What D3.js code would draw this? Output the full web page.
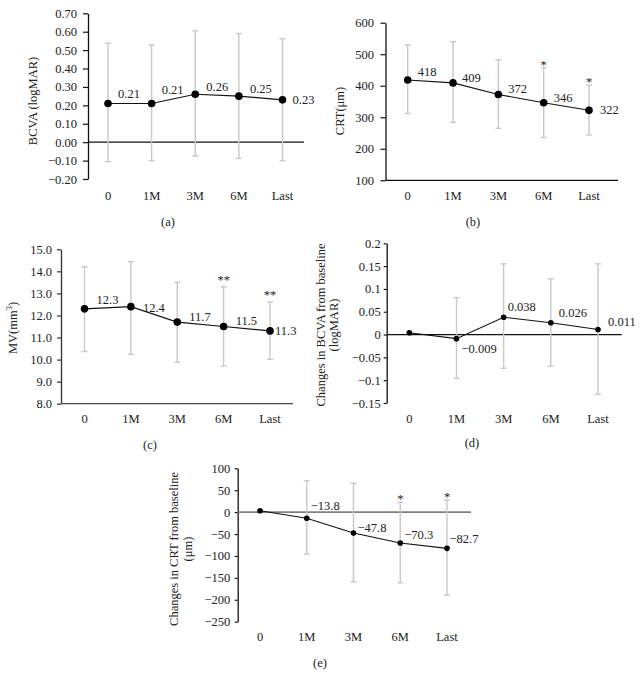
<!DOCTYPE html>
<html>
<head>
<meta charset="utf-8">
<script src="https://cdn.jsdelivr.net/npm/d3@7/dist/d3.min.js"></script>
<style>
  html, body { margin: 0; padding: 0; background: #fff; }
  svg { display: block; }
  text { font-family: "Liberation Serif", "DejaVu Serif", serif; fill: #222; }
</style>
</head>
<body>
<svg id="chart" width="643" height="688"></svg>
<script>
// ---------------- DATA ----------------
const categories = ["0", "1M", "3M", "6M", "Last"];

// (a) BCVA
const bcvaMean  = [0.21, 0.21, 0.26, 0.25, 0.23];
const bcvaUpper = [0.537, 0.528, 0.605, 0.59, 0.562];
const bcvaLower = [-0.106, -0.10, -0.075, -0.088, -0.10];
const bcvaLabels = ["0.21", "0.21", "0.26", "0.25", "0.23"];
const bcvaStars = ["", "", "", "", ""];
const bcvaTicks = [-0.2, -0.1, 0, 0.1, 0.2, 0.3, 0.4, 0.5, 0.6, 0.7];

// (b) CRT
const crtMean  = [418, 409, 372, 346, 322];
const crtUpper = [529, 540, 482, 457, 402];
const crtLower = [312, 284, 265, 236, 244];
const crtLabels = ["418", "409", "372", "346", "322"];
const crtStars = ["", "", "", "*", "*"];
const crtTicks = [100, 200, 300, 400, 500, 600];

// (c) MV
const mvMean  = [12.3, 12.4, 11.7, 11.5, 11.3];
const mvUpper = [14.21, 14.44, 13.5, 13.3, 12.6];
const mvLower = [10.36, 10.24, 9.88, 9.71, 10.01];
const mvLabels = ["12.3", "12.4", "11.7", "11.5", "11.3"];
const mvStars = ["", "", "", "**", "**"];
const mvTicks = [8, 9, 10, 11, 12, 13, 14, 15];

// (d) Change in BCVA
const dBcvaMean  = [0.004, -0.009, 0.038, 0.026, 0.011];
const dBcvaUpper = [null, 0.081, 0.155, 0.122, 0.155];
const dBcvaLower = [null, -0.096, -0.074, -0.069, -0.131];
const dBcvaLabels = ["", "\u22120.009", "0.038", "0.026", "0.011"];
const dBcvaStars = ["", "", "", "", ""];
const dBcvaTicks = [-0.15, -0.1, -0.05, 0, 0.05, 0.1, 0.15, 0.2];
const dBcvaTickLabels = ["\u22120.15", "\u22120.1", "\u22120.05", "0", "0.05", "0.1", "0.15", "0.2"];

// (e) Change in CRT
const dCrtMean  = [3, -13.8, -47.8, -70.3, -82.7];
const dCrtUpper = [null, 71.7, 65.8, 22.4, 27.6];
const dCrtLower = [null, -95.7, -158.9, -161.2, -189.3];
const dCrtLabels = ["", "\u221213.8", "\u221247.8", "\u221270.3", "\u221282.7"];
const dCrtStars = ["", "", "", "*", "*"];
const dCrtTicks = [-250, -200, -150, -100, -50, 0, 50, 100];

// ---------------- DRAWING ----------------
const svg = d3.select("#chart");
const FONT = 12.5;
const minus = s => s.replace(/-/g, "\u2212");

function drawPanel(cfg) {
  const g = svg.append("g");
  const y = d3.scaleLinear().domain(cfg.domain).range([cfg.yBottom, cfg.yTop]);
  const x = d3.scalePoint().domain(categories).range([cfg.x0, cfg.x4]);

  // y axis
  const axis = d3.axisLeft(y)
    .tickValues(cfg.ticks)
    .tickFormat(cfg.fmt)
    .tickSize(cfg.tickLen)
    .tickSizeOuter(0)
    .tickPadding(cfg.pad);
  const ag = g.append("g")
    .attr("transform", `translate(${cfg.axisX},0)`)
    .call(axis);
  ag.attr("font-family", null).attr("font-size", null);
  ag.select(".domain").attr("stroke", cfg.axisColor).attr("stroke-width", 1.3);
  ag.selectAll(".tick line").attr("stroke", cfg.axisColor).attr("stroke-width", 1.2);
  ag.selectAll(".tick text").style("font-size", FONT + "px").attr("fill", "#222");

  // baseline (zero line or bottom axis)
  g.append("line")
    .attr("x1", cfg.axisX).attr("x2", cfg.lineEnd)
    .attr("y1", y(cfg.base)).attr("y2", y(cfg.base))
    .attr("stroke", cfg.baseColor).attr("stroke-width", cfg.baseWidth);

  // category labels
  g.selectAll(".cat").data(categories).enter().append("text")
    .attr("x", d => x(d)).attr("y", cfg.catY)
    .attr("text-anchor", "middle")
    .style("font-size", FONT + "px")
    .text(d => d);

  const pts = categories.map((c, i) => ({
    c, m: cfg.mean[i], u: cfg.upper[i], l: cfg.lower[i],
    lab: cfg.labels[i], star: cfg.stars[i], off: cfg.offsets[i]
  }));

  // error bars
  const eb = g.selectAll(".eb").data(pts.filter(p => p.u != null)).enter().append("g")
    .attr("stroke", "#c9c9c9").attr("stroke-width", 1.4);
  eb.append("line").attr("x1", p => x(p.c)).attr("x2", p => x(p.c))
    .attr("y1", p => y(p.u)).attr("y2", p => y(p.l));
  eb.append("line").attr("x1", p => x(p.c) - 3).attr("x2", p => x(p.c) + 3)
    .attr("y1", p => y(p.u)).attr("y2", p => y(p.u));
  eb.append("line").attr("x1", p => x(p.c) - 3).attr("x2", p => x(p.c) + 3)
    .attr("y1", p => y(p.l)).attr("y2", p => y(p.l));

  // mean line
  g.append("path")
    .attr("d", d3.line().x(p => x(p.c)).y(p => y(p.m))(pts))
    .attr("fill", "none").attr("stroke", "#111").attr("stroke-width", 1.1);

  // dots
  g.selectAll(".dot").data(pts).enter().append("circle")
    .attr("cx", p => x(p.c)).attr("cy", p => y(p.m)).attr("r", cfg.r)
    .attr("fill", "#000");

  // value labels
  g.selectAll(".vl").data(pts.filter(p => p.lab)).enter().append("text")
    .attr("x", p => x(p.c) + p.off[0])
    .attr("y", p => y(p.m) + p.off[1])
    .attr("dy", "0.35em")
    .style("font-size", FONT + "px")
    .text(p => p.lab);

  // significance stars
  g.selectAll(".st").data(pts.filter(p => p.star)).enter().append("text")
    .attr("x", p => x(p.c)).attr("y", p => y(p.u) + cfg.starDy)
    .attr("text-anchor", "middle")
    .style("font-size", FONT + "px")
    .text(p => p.star);

  // y label
  cfg.yLabel.forEach((line, i) => {
    const t = g.append("text")
      .attr("transform", `translate(${cfg.yLabelX[i]},${cfg.yLabelY}) rotate(-90)`)
      .attr("text-anchor", "middle")
      .attr("dy", "0.35em")
      .style("font-size", FONT + "px");
    line.forEach(seg => {
      const ts = t.append("tspan").text(seg.t);
      if (seg.sup) ts.attr("baseline-shift", "super").style("font-size", "8.5px");
    });
  });

  // panel label
  g.append("text")
    .attr("x", cfg.panelX).attr("y", cfg.panelY)
    .attr("text-anchor", "middle")
    .style("font-size", FONT + "px")
    .text(cfg.panel);
}

// (a)
drawPanel({
  domain: [-0.2, 0.7], yBottom: 179, yTop: 13.3, axisX: 88,
  ticks: bcvaTicks, fmt: v => minus(d3.format(".2f")(v)), tickLen: 5, pad: 6,
  axisColor: "#111", x0: 108, x4: 282.5,
  base: 0, lineEnd: 304, baseColor: "#111", baseWidth: 1.2,
  catY: 199.5,
  mean: bcvaMean, upper: bcvaUpper, lower: bcvaLower, labels: bcvaLabels, stars: bcvaStars,
  offsets: [[10, -10], [10, -14], [11, -8], [11, -8], [10, 0]],
  r: 3.8, starDy: 1,
  yLabel: [[{t: "BCVA (logMAR)"}]], yLabelX: [33], yLabelY: 101,
  panel: "(a)", panelX: 168, panelY: 226
});

// (b)
drawPanel({
  domain: [100, 600], yBottom: 180.3, yTop: 22.7, axisX: 385.5,
  ticks: crtTicks, fmt: d3.format("d"), tickLen: 5, pad: 6.5,
  axisColor: "#111", x0: 407.7, x4: 589,
  base: 100, lineEnd: 618, baseColor: "#111", baseWidth: 1.3,
  catY: 199.5,
  mean: crtMean, upper: crtUpper, lower: crtLower, labels: crtLabels, stars: crtStars,
  offsets: [[10, -8.4], [9, -5], [10, -6], [10, -5.5], [11, -1]],
  r: 3.8, starDy: 1,
  yLabel: [[{t: "CRT(\u03bcm)"}]], yLabelX: [340], yLabelY: 111,
  panel: "(b)", panelX: 473, panelY: 226
});

// (c)
drawPanel({
  domain: [8, 15], yBottom: 403.7, yTop: 249.3, axisX: 61,
  ticks: mvTicks, fmt: d3.format(".1f"), tickLen: 4, pad: 5,
  axisColor: "#333", x0: 84.5, x4: 270,
  base: 8, lineEnd: 293, baseColor: "#444", baseWidth: 1.3,
  catY: 422.5,
  mean: mvMean, upper: mvUpper, lower: mvLower, labels: mvLabels, stars: mvStars,
  offsets: [[12, -9], [12, 0.6], [12, -5], [12, -6], [5, 0]],
  r: 3.8, starDy: -3,
  yLabel: [[{t: "MV(mm"}, {t: "3", sup: true}, {t: ")"}]], yLabelX: [13], yLabelY: 328,
  panel: "(c)", panelX: 150, panelY: 449
});

// (d)
drawPanel({
  domain: [-0.15, 0.2], yBottom: 403, yTop: 243.3, axisX: 386.7,
  ticks: dBcvaTicks, fmt: v => dBcvaTickLabels[dBcvaTicks.indexOf(v)], tickLen: 3, pad: 3,
  axisColor: "#111", x0: 409.3, x4: 598,
  base: 0, lineEnd: 621.7, baseColor: "#111", baseWidth: 1.2,
  catY: 422.7,
  mean: dBcvaMean, upper: dBcvaUpper, lower: dBcvaLower, labels: dBcvaLabels, stars: dBcvaStars,
  offsets: [[0, 0], [5, 10], [4, -10.5], [8, -9.6], [10, -8]],
  r: 2.8, starDy: 1,
  yLabel: [[{t: "Changes in BCVA from baseline"}], [{t: "(logMAR)"}]], yLabelX: [321, 334], yLabelY: 325,
  panel: "(d)", panelX: 472, panelY: 447
});

// (e)
drawPanel({
  domain: [-250, 100], yBottom: 621.7, yTop: 468.3, axisX: 237.7,
  ticks: dCrtTicks, fmt: v => minus(d3.format("d")(v)), tickLen: 3, pad: 4.5,
  axisColor: "#111", x0: 260, x4: 447,
  base: 0, lineEnd: 471, baseColor: "#808080", baseWidth: 1.6,
  catY: 641,
  mean: dCrtMean, upper: dCrtUpper, lower: dCrtLower, labels: dCrtLabels, stars: dCrtStars,
  offsets: [[0, 0], [4, -12.4], [4, -5.3], [4, -8.6], [2.5, -10]],
  r: 2.8, starDy: 1,
  yLabel: [[{t: "Changes in CRT from baseline"}], [{t: "(\u03bcm)"}]], yLabelX: [173.5, 188], yLabelY: 549,
  panel: "(e)", panelX: 320, panelY: 667
});
</script>
</body>
</html>
